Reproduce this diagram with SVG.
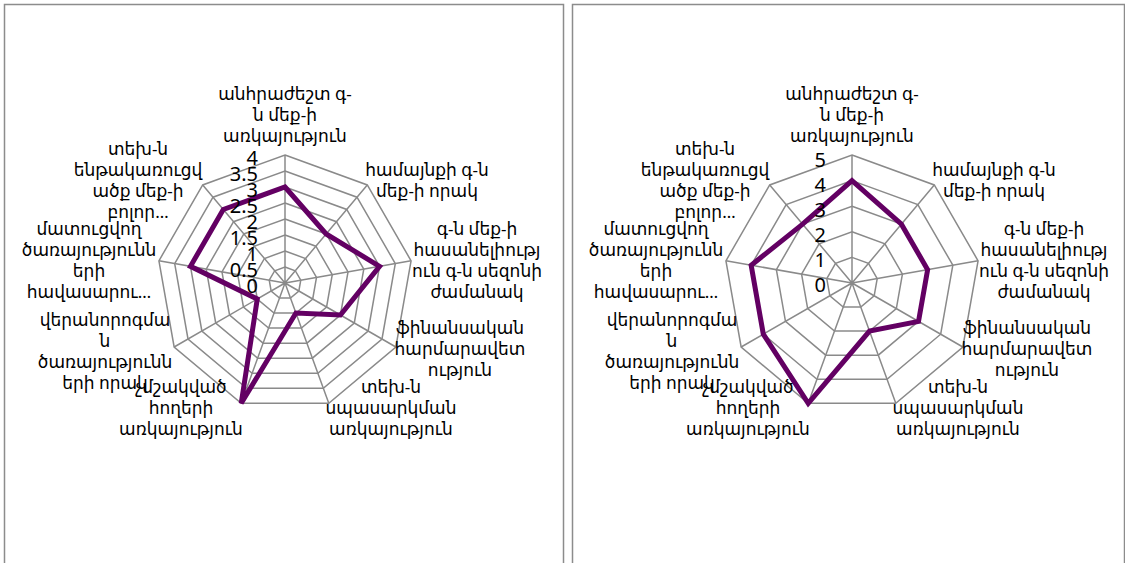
<svg xmlns="http://www.w3.org/2000/svg" xmlns:xlink="http://www.w3.org/1999/xlink" width="1125" height="563" viewBox="0 0 1125 563">
<style>
.panel{fill:#fff;stroke:#8c8c8c;stroke-width:1.5}
.grid{fill:none;stroke:#8a8a8a;stroke-width:1.5}
.data{fill:none;stroke:#630063;stroke-width:5;stroke-linejoin:miter}
.tick{font-family:"Noto Sans","DejaVu Sans",sans-serif;font-size:20px;fill:#000;text-anchor:end}
.cat{font-family:"Noto Sans","DejaVu Sans",sans-serif;font-size:17px;fill:#000;text-anchor:middle}
</style>
<rect width="1125" height="563" fill="#fff"/>
<rect class="panel" x="4.5" y="4.5" width="559" height="570"/>
<rect class="panel" x="572.5" y="4.5" width="552" height="570"/>

<g id="chart-left" transform="translate(285,283)">
 <g id="grid-left" class="grid">
  <polygon points="0,-16 10.29,-12.26 15.76,-2.78 13.86,8 5.47,15.04 -5.47,15.04 -13.86,8 -15.76,-2.78 -10.29,-12.26"/>
  <polygon points="0,-32 20.57,-24.51 31.51,-5.56 27.71,16 10.94,30.07 -10.94,30.07 -27.71,16 -31.51,-5.56 -20.57,-24.51"/>
  <polygon points="0,-48 30.85,-36.77 47.27,-8.34 41.57,24 16.42,45.11 -16.42,45.11 -41.57,24 -47.27,-8.34 -30.85,-36.77"/>
  <polygon points="0,-64 41.14,-49.03 63.03,-11.11 55.43,32 21.89,60.14 -21.89,60.14 -55.43,32 -63.03,-11.11 -41.14,-49.03"/>
  <polygon points="0,-80 51.42,-61.28 78.78,-13.89 69.28,40 27.36,75.18 -27.36,75.18 -69.28,40 -78.78,-13.89 -51.42,-61.28"/>
  <polygon points="0,-96 61.71,-73.54 94.54,-16.67 83.14,48 32.83,90.21 -32.83,90.21 -83.14,48 -94.54,-16.67 -61.71,-73.54"/>
  <polygon points="0,-112 71.99,-85.8 110.3,-19.45 97,56 38.31,105.25 -38.31,105.25 -97,56 -110.3,-19.45 -71.99,-85.8"/>
  <polygon points="0,-128 82.28,-98.05 126.06,-22.23 110.85,64 43.78,120.28 -43.78,120.28 -110.85,64 -126.06,-22.23 -82.28,-98.05"/>
  <path d="M0,0V-128M0,0L82.28,-98.05M0,0L126.06,-22.23M0,0L110.85,64M0,0L43.78,120.28M0,0L-43.78,120.28M0,0L-110.85,64M0,0L-126.06,-22.23M0,0L-82.28,-98.05"/>
 </g>
 <polygon id="series-left" class="data" points="0,-96 41.14,-49.03 94.54,-16.67 55.43,32 10.94,30.07 -43.78,120.28 -27.71,16 -94.54,-16.67 -61.71,-73.54"/>
 <g id="ticks-left" class="tick">
  <text x="-27" y="10">0</text>
  <text x="-27" y="-6">0.5</text>
  <text x="-27" y="-22">1</text>
  <text x="-27" y="-38">1.5</text>
  <text x="-27" y="-54">2</text>
  <text x="-27" y="-70">2.5</text>
  <text x="-27" y="-86">3</text>
  <text x="-27" y="-102">3.5</text>
  <text x="-27" y="-118">4</text>
 </g>
 <g id="left-cat1" class="cat"><text x="0" y="-183">անհրաժեշտ գ-</text><text x="0" y="-162">ն մեք-ի</text><text x="0" y="-141">առկայություն</text></g>
 <g id="left-cat2" class="cat"><text x="142" y="-107">համայնքի գ-ն</text><text x="142" y="-86">մեք-ի որակ</text></g>
 <g id="left-cat3" class="cat"><text x="192" y="-48">գ-ն մեք-ի</text><text x="192" y="-27">հասանելիությ</text><text x="192" y="-6">ուն գ-ն սեզոնի</text><text x="192" y="15">ժամանակ</text></g>
 <g id="left-cat4" class="cat"><text x="175" y="51">ֆինանսական</text><text x="175" y="72">հարմարավետ</text><text x="175" y="93">ություն</text></g>
 <g id="left-cat5" class="cat"><text x="106" y="110">տեխ-ն</text><text x="106" y="131">սպասարկման</text><text x="106" y="152">առկայություն</text></g>
 <g id="left-cat6" class="cat"><text x="-104" y="110">չմշակված</text><text x="-104" y="131">հողերի</text><text x="-104" y="152">առկայություն</text></g>
 <g id="left-cat7" class="cat"><text x="-180" y="43">վերանորոգմա</text><text x="-180" y="64">ն</text><text x="-180" y="85">ծառայությունն</text><text x="-180" y="106">երի որակ</text></g>
 <g id="left-cat8" class="cat"><text x="-196" y="-48">մատուցվող</text><text x="-196" y="-27">ծառայությունն</text><text x="-196" y="-6">երի</text><text x="-196" y="15">հավասարու…</text></g>
 <g id="left-cat9" class="cat"><text x="-147" y="-128">տեխ-ն</text><text x="-147" y="-107">ենթակառուցվ</text><text x="-147" y="-86">ածք մեք-ի</text><text x="-147" y="-65">բոլոր…</text></g>
</g>

<g id="chart-right" transform="translate(852,283)">
 <g id="grid-right" class="grid">
  <polygon points="0,-25.6 16.46,-19.61 25.21,-4.45 22.17,12.8 8.76,24.06 -8.76,24.06 -22.17,12.8 -25.21,-4.45 -16.46,-19.61"/>
  <polygon points="0,-51.2 32.91,-39.22 50.42,-8.89 44.34,25.6 17.51,48.11 -17.51,48.11 -44.34,25.6 -50.42,-8.89 -32.91,-39.22"/>
  <polygon points="0,-76.8 49.37,-58.83 75.63,-13.34 66.51,38.4 26.27,72.17 -26.27,72.17 -66.51,38.4 -75.63,-13.34 -49.37,-58.83"/>
  <polygon points="0,-102.4 65.82,-78.44 100.84,-17.78 88.68,51.2 35.02,96.23 -35.02,96.23 -88.68,51.2 -100.84,-17.78 -65.82,-78.44"/>
  <polygon points="0,-128 82.28,-98.05 126.06,-22.23 110.85,64 43.78,120.28 -43.78,120.28 -110.85,64 -126.06,-22.23 -82.28,-98.05"/>
  <path d="M0,0V-128M0,0L82.28,-98.05M0,0L126.06,-22.23M0,0L110.85,64M0,0L43.78,120.28M0,0L-43.78,120.28M0,0L-110.85,64M0,0L-126.06,-22.23M0,0L-82.28,-98.05"/>
 </g>
 <polygon id="series-right" class="data" points="0,-102.4 49.37,-58.83 75.63,-13.34 66.51,38.4 17.51,48.11 -43.78,120.28 -88.68,51.2 -100.84,-17.78 -49.37,-58.83"/>
 <g id="ticks-right" class="tick">
  <text x="-26" y="9">0</text>
  <text x="-26" y="-16">1</text>
  <text x="-26" y="-41">2</text>
  <text x="-26" y="-66">3</text>
  <text x="-26" y="-91">4</text>
  <text x="-26" y="-116">5</text>
 </g>
 <g id="right-cat1" class="cat"><text x="0" y="-183">անհրաժեշտ գ-</text><text x="0" y="-162">ն մեք-ի</text><text x="0" y="-141">առկայություն</text></g>
 <g id="right-cat2" class="cat"><text x="142" y="-107">համայնքի գ-ն</text><text x="142" y="-86">մեք-ի որակ</text></g>
 <g id="right-cat3" class="cat"><text x="192" y="-48">գ-ն մեք-ի</text><text x="192" y="-27">հասանելիությ</text><text x="192" y="-6">ուն գ-ն սեզոնի</text><text x="192" y="15">ժամանակ</text></g>
 <g id="right-cat4" class="cat"><text x="175" y="51">ֆինանսական</text><text x="175" y="72">հարմարավետ</text><text x="175" y="93">ություն</text></g>
 <g id="right-cat5" class="cat"><text x="106" y="110">տեխ-ն</text><text x="106" y="131">սպասարկման</text><text x="106" y="152">առկայություն</text></g>
 <g id="right-cat6" class="cat"><text x="-104" y="110">չմշակված</text><text x="-104" y="131">հողերի</text><text x="-104" y="152">առկայություն</text></g>
 <g id="right-cat7" class="cat"><text x="-180" y="43">վերանորոգմա</text><text x="-180" y="64">ն</text><text x="-180" y="85">ծառայությունն</text><text x="-180" y="106">երի որակ</text></g>
 <g id="right-cat8" class="cat"><text x="-196" y="-48">մատուցվող</text><text x="-196" y="-27">ծառայությունն</text><text x="-196" y="-6">երի</text><text x="-196" y="15">հավասարու…</text></g>
 <g id="right-cat9" class="cat"><text x="-147" y="-128">տեխ-ն</text><text x="-147" y="-107">ենթակառուցվ</text><text x="-147" y="-86">ածք մեք-ի</text><text x="-147" y="-65">բոլոր…</text></g>
</g>
</svg>
